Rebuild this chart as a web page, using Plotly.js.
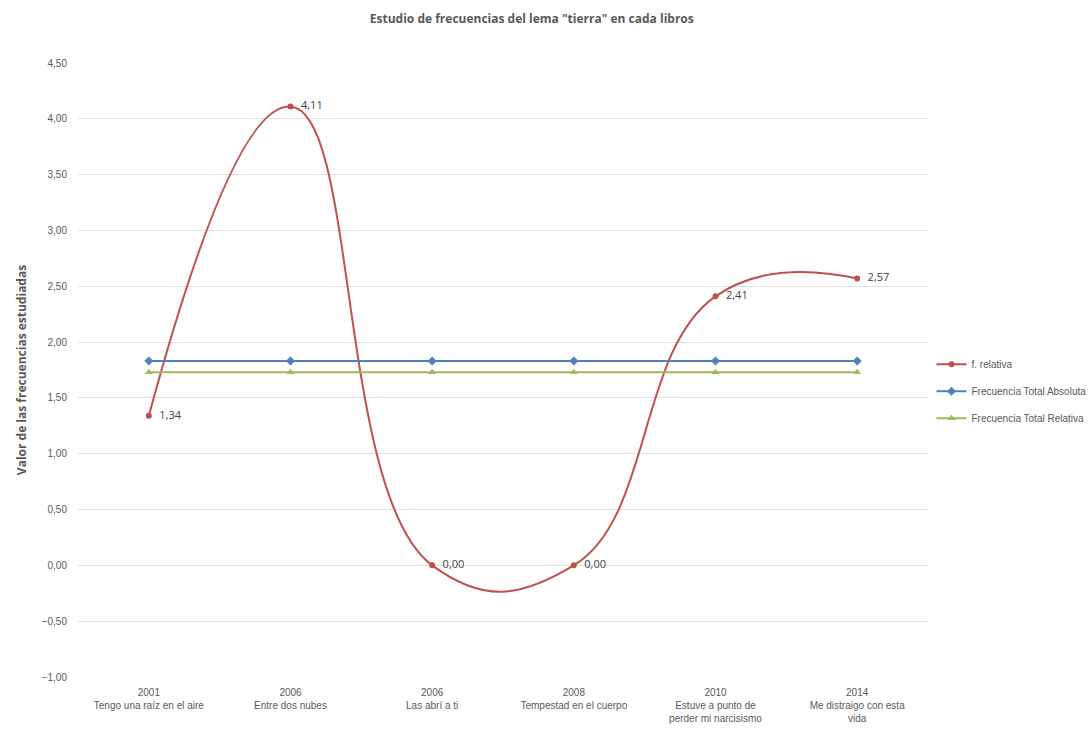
<!DOCTYPE html>
<html>
<head>
<meta charset="utf-8">
<script src="https://cdn.plot.ly/plotly-3.0.1.min.js"></script>
<style>html,body{margin:0;padding:0;background:#fff;}#chart{width:1092px;height:737px;}</style>
</head>
<body>
<div id="chart"></div>
<script>
// Data
const years = ["2001", "2006", "2006", "2008", "2010", "2014"];
const books = ["Tengo una raíz en el aire", "Entre dos nubes", "Las abrí a ti", "Tempestad en el cuerpo", "Estuve a punto de<br>perder mi narcisismo", "Me distraigo con esta<br>vida"];
const fRelativa = [1.34, 4.11, 0.00, 0.00, 2.41, 2.57];
const freqTotalAbsoluta = [1.83, 1.83, 1.83, 1.83, 1.83, 1.83];
const freqTotalRelativa = [1.73, 1.73, 1.73, 1.73, 1.73, 1.73];

const xIdx = years.map((_, i) => i);
const tickText = years.map((y, i) => y + "<br>" + books[i]);
const fmt = v => "\u00a0\u00a0" + v.toFixed(2).replace(".", ",");

const traces = [
  {
    x: xIdx, y: fRelativa, name: "f. relativa", type: "scatter",
    mode: "lines+markers+text",
    line: {color: "#C0504D", width: 2, shape: "spline", smoothing: 1.3},
    marker: {symbol: "circle", size: 6, color: "#C0504D"},
    text: fRelativa.map(fmt), textposition: "middle right",
    textfont: {family: "Open Sans, sans-serif", size: 11, color: "#404040"},
    legendgroup: "a"
  },
  {
    x: xIdx, y: freqTotalAbsoluta, name: "Frecuencia Total Absoluta", type: "scatter",
    mode: "lines+markers",
    line: {color: "#4F81BD", width: 2},
    marker: {symbol: "diamond", size: 7, color: "#4F81BD"},
    legendgroup: "b"
  },
  {
    x: xIdx, y: freqTotalRelativa, name: "Frecuencia Total Relativa", type: "scatter",
    mode: "lines+markers",
    line: {color: "#9BBB59", width: 2},
    marker: {symbol: "triangle-up", size: 7, color: "#9BBB59"},
    legendgroup: "c"
  }
];

const layout = {
  width: 1092, height: 737,
  paper_bgcolor: "#ffffff", plot_bgcolor: "#ffffff",
  separators: ",.",
  margin: {l: 78, r: 164, t: 63, b: 60, autoexpand: false},
  font: {family: "Liberation Sans Narrow, Liberation Sans, sans-serif", color: "#595959", size: 10},
  title: {
    text: "Estudio de frecuencias del lema \"tierra\" en cada libros",
    font: {family: "Open Sans, sans-serif", size: 12, color: "#595959", weight: "bold"},
    x: 0.487, xref: "container", xanchor: "center", y: 0.975, yref: "container", yanchor: "middle"
  },
  xaxis: {
    range: [-0.5, 5.5], tickmode: "array", tickvals: xIdx, ticktext: tickText,
    showgrid: false, zeroline: false, showline: false, ticks: "",
    ticklabelstandoff: 8,
    tickfont: {family: "Liberation Sans Narrow, Liberation Sans, sans-serif", size: 10, color: "#595959"},
    fixedrange: true
  },
  yaxis: {
    range: [-1, 4.5], dtick: 0.5, tick0: 0, tickformat: ".2f",
    showgrid: true, gridcolor: "#e0e0e0", gridwidth: 1,
    zeroline: false, showline: false, ticks: "",
    ticklabelstandoff: 10,
    tickfont: {family: "Liberation Sans Narrow, Liberation Sans, sans-serif", size: 10, color: "#595959"},
    title: {text: "Valor de las frecuencias estudiadas", font: {family: "Open Sans, sans-serif", size: 12, color: "#595959", weight: "bold"}, standoff: 12},
    fixedrange: true
  },
  showlegend: true,
  legend: {
    xref: "container", x: 0.853, xanchor: "left", y: 0.533, yanchor: "top",
    traceorder: "grouped", tracegroupgap: 8,
    font: {family: "Liberation Sans Narrow, Liberation Sans, sans-serif", size: 10, color: "#595959"},
    itemwidth: 30, bgcolor: "rgba(0,0,0,0)"
  }
};

Plotly.newPlot("chart", traces, layout, {displayModeBar: false, staticPlot: true});
</script>
</body>
</html>
